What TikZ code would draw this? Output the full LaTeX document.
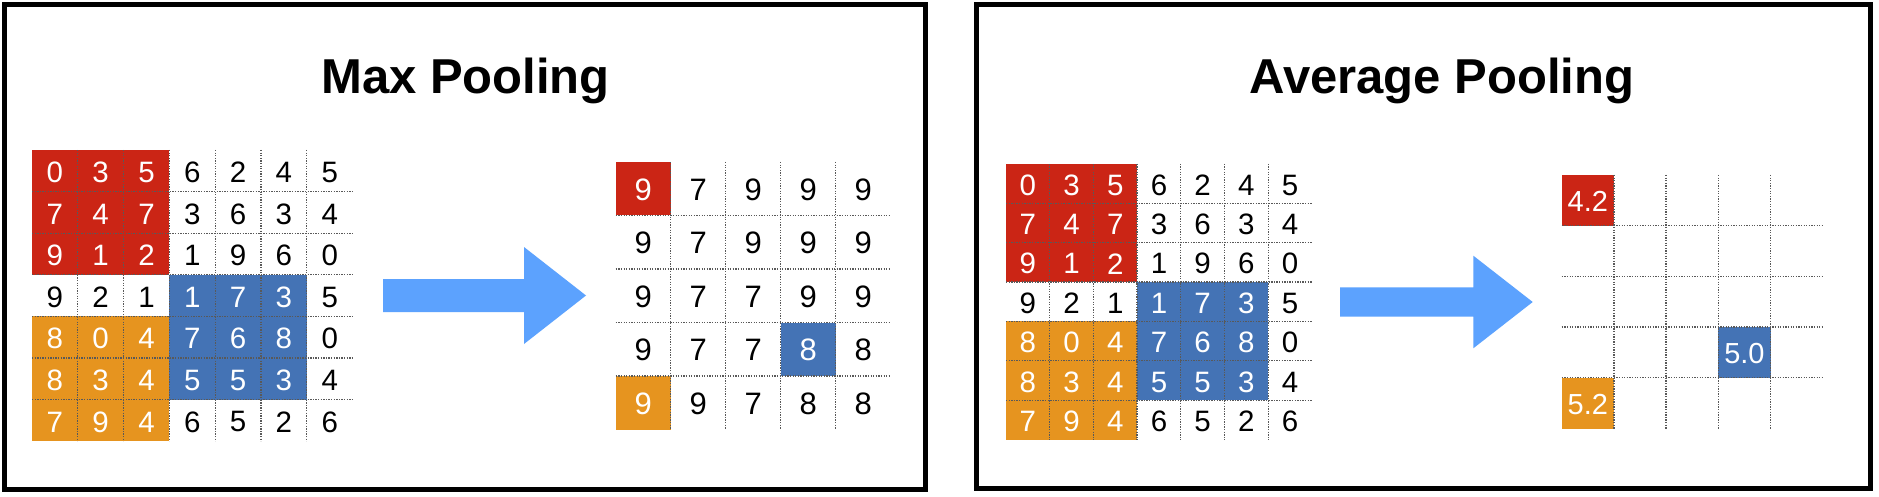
\documentclass[tikz,border=0pt]{standalone}
\usepackage{fontspec}
\setmainfont{Liberation Sans}
\definecolor{cred}{HTML}{CB2515}
\definecolor{cblue}{HTML}{4473B5}
\definecolor{corange}{HTML}{E6941F}
\definecolor{carrow}{HTML}{5CA2FE}
\tikzset{
  frame/.style={draw=black,line width=5pt},
  gridline/.style={draw=black!65,line width=1.3pt,dash pattern=on 1.3pt off 1.3pt},
  titletext/.style={font=\fontsize{49}{49}\selectfont\bfseries,anchor=base,inner sep=0pt},
  numin/.style={font=\fontsize{29.5}{29.5}\selectfont,inner sep=0pt},
  nummax/.style={font=\fontsize{31}{31}\selectfont,inner sep=0pt},
  numavg/.style={font=\fontsize{29}{29}\selectfont,inner sep=0pt},
  bigarrow/.style={fill=carrow,draw=none}
}
\def\inputvals{{0,3,5,6,2,4,5},{7,4,7,3,6,3,4},{9,1,2,1,9,6,0},{9,2,1,1,7,3,5},{8,0,4,7,6,8,0},{8,3,4,5,5,3,4},{7,9,4,6,5,2,6}}
\def\maxvals{{9,7,9,9,9},{9,7,9,9,9},{9,7,7,9,9},{9,7,7,8,8},{9,9,7,8,8}}
\begin{document}
\begin{tikzpicture}[x=1pt,y=-1pt]
\useasboundingbox (0,0) rectangle (1879,497);
\fill[white] (0,0) rectangle (1879,497);

% frames
\draw[frame] (4.5,4.5) rectangle (925.5,489.5);
\draw[frame] (976.5,4.5) rectangle (1870.5,488);

% titles
\node[titletext] (tmax) at (465.5,94) {Max Pooling};
\node[titletext] (tavg) at (1442,94) {Average Pooling};

% ---------- input grids (A: max, C: average) ----------
\foreach \gname/\xo/\yo/\cw/\ch in {A/32/150/45.8/41.6, C/1006/163.8/43.7/39.4}{
  \fill[cred] (\xo,\yo) rectangle ++({3*\cw},{3*\ch});
  \fill[cblue] ({\xo+3*\cw},{\yo+3*\ch}) rectangle ++({3*\cw},{3*\ch});
  \fill[corange] (\xo,{\yo+4*\ch}) rectangle ++({3*\cw},{3*\ch});
  \foreach \i in {1,...,6}{
    \draw[gridline] ({\xo+\i*\cw},\yo) -- ({\xo+\i*\cw},{\yo+7*\ch});
    \draw[gridline] (\xo,{\yo+\i*\ch}) -- ({\xo+7*\cw},{\yo+\i*\ch});
  }
  \foreach \row [count=\rr from 0] in \inputvals{
    \foreach \v [count=\cc from 0] in \row{
      \pgfmathtruncatemacro\isw{((\rr<3)&&(\cc<3))||((\rr>2)&&(\rr<6)&&(\cc>2)&&(\cc<6))||((\rr>3)&&(\cc<3))}
      \ifnum\isw=1 \def\tc{white}\else\def\tc{black}\fi
      \node[numin,text=\tc] (\gname-\rr-\cc) at ({\xo+(\cc+0.5)*\cw},{\yo+(\rr+0.5)*\ch+1.5}) {\v};
    }
  }
}

% ---------- max output grid (B) ----------
\def\xB{615.7}\def\yB{162}\def\cwB{55}\def\chB{53.5}
\fill[cred] (\xB,\yB) rectangle ++(\cwB,\chB);
\fill[cblue] ({\xB+3*\cwB},{\yB+3*\chB}) rectangle ++(\cwB,\chB);
\fill[corange] (\xB,{\yB+4*\chB}) rectangle ++(\cwB,\chB);
\foreach \i in {1,...,4}{
  \draw[gridline] ({\xB+\i*\cwB},\yB) -- ({\xB+\i*\cwB},{\yB+5*\chB});
  \draw[gridline] (\xB,{\yB+\i*\chB}) -- ({\xB+5*\cwB},{\yB+\i*\chB});
}
\foreach \row [count=\rr from 0] in \maxvals{
  \foreach \v [count=\cc from 0] in \row{
    \pgfmathtruncatemacro\isw{((\rr==0)&&(\cc==0))||((\rr==3)&&(\cc==3))||((\rr==4)&&(\cc==0))}
    \ifnum\isw=1 \def\tc{white}\else\def\tc{black}\fi
    \node[nummax,text=\tc] (B-\rr-\cc) at ({\xB+(\cc+0.5)*\cwB},{\yB+(\rr+0.5)*\chB+1}) {\v};
  }
}

% ---------- average output grid (D) ----------
\def\xD{1561.7}\def\yD{175}\def\cwD{52.2}\def\chD{50.7}
\fill[cred] (\xD,\yD) rectangle ++(\cwD,\chD);
\fill[cblue] ({\xD+3*\cwD},{\yD+3*\chD}) rectangle ++(\cwD,\chD);
\fill[corange] (\xD,{\yD+4*\chD}) rectangle ++(\cwD,\chD);
\foreach \i in {1,...,4}{
  \draw[gridline] ({\xD+\i*\cwD},\yD) -- ({\xD+\i*\cwD},{\yD+5*\chD});
  \draw[gridline] (\xD,{\yD+\i*\chD}) -- ({\xD+5*\cwD},{\yD+\i*\chD});
}
\node[numavg,text=white] (D-0-0) at ({\xD+0.5*\cwD},{\yD+0.5*\chD+1}) {4.2};
\node[numavg,text=white] (D-3-3) at ({\xD+3.5*\cwD},{\yD+3.5*\chD+1}) {5.0};
\node[numavg,text=white] (D-4-0) at ({\xD+0.5*\cwD},{\yD+4.5*\chD+1}) {5.2};

% ---------- arrows ----------
\fill[bigarrow] (383,279) -- (524,279) -- (524,247) -- (586,295.5) -- (524,344) -- (524,312) -- (383,312) -- cycle;
\fill[bigarrow] (1340,287.3) -- (1473.3,287.3) -- (1473.3,255.7) -- (1532.7,302) -- (1473.3,348.3) -- (1473.3,316.7) -- (1340,316.7) -- cycle;
\end{tikzpicture}
\end{document}
